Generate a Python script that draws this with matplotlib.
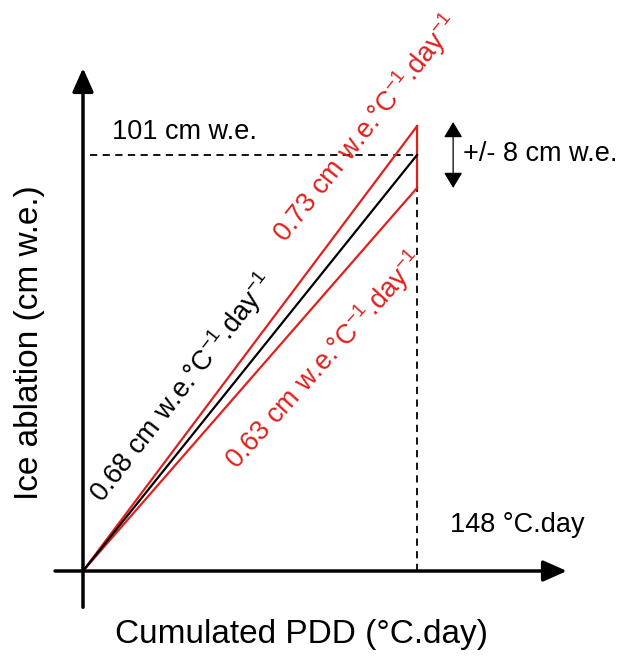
import matplotlib.pyplot as plt
import numpy as np

plt.rcParams['font.family'] = ['Liberation Sans', 'DejaVu Sans']
plt.rcParams['mathtext.fontset'] = 'custom'
plt.rcParams['mathtext.rm'] = 'Liberation Sans'
plt.rcParams['mathtext.it'] = 'Liberation Sans:italic'

# data
pdd = [0, 148]                 # cumulated PDD (°C.day)
abl_mean = [0, 101]            # 0.68 cm w.e./°C/day
abl_high = [0, 108]            # 0.73
abl_low = [0, 93]              # 0.63
uncert = 8                     # +/- cm w.e.
rate_labels = ['0.68', '0.73', '0.63']

red = '#e0201c'

fig = plt.figure(figsize=(6.21, 6.59), dpi=100)
ax = fig.add_axes([0, 0, 1, 1])
# pixel scale: origin at (83, 571)
ax.set_xlim(-83 / 2.257, (621 - 83) / 2.257)
ax.set_ylim(-(659 - 571) / 4.119, 571 / 4.119)
ax.axis('off')

# axes arrows
head = '-|>,head_length=0.9,head_width=0.4'
ax.annotate('', xy=(0, 122.1), xytext=(0, -8.8),
            arrowprops=dict(arrowstyle=head, color='black', lw=2.5,
                            mutation_scale=16, shrinkA=0, shrinkB=0))
ax.annotate('', xy=(214.4, 0), xytext=(-12.4, 0),
            arrowprops=dict(arrowstyle=head, color='black', lw=2.5,
                            mutation_scale=16, shrinkA=0, shrinkB=0))

# dashed guides
ax.plot([3, pdd[1]], [abl_mean[1], abl_mean[1]], ls=(0, (4, 3)), color='black', lw=1.3)
ax.plot([pdd[1], pdd[1]], [0, abl_low[1]], ls=(0, (4, 3)), color='black', lw=1.3)

# lines
ax.plot(pdd, abl_high, color=red, lw=1.6)
ax.plot(pdd, abl_low, color=red, lw=1.6)
ax.plot([pdd[1], pdd[1]], [abl_low[1], abl_high[1]], color=red, lw=1.6)
ax.plot(pdd, abl_mean, color='black', lw=1.6)

# +/- arrow
ax.annotate('', xy=(164, abl_mean[1] + uncert), xytext=(164, abl_mean[1] - uncert),
            arrowprops=dict(arrowstyle='<|-|>,head_length=0.8,head_width=0.48',
                            color='black', lw=0.9, mutation_scale=12,
                            shrinkA=0, shrinkB=0))

fs = 19.5
unit = r' cm w.e.°C$^{-1}$.day$^{-1}$'
ax.text(44, 44.6, rate_labels[0] + unit, fontsize=fs, color='black',
        rotation=52, ha='center', va='center', rotation_mode='anchor')
ax.text(125.4, 107.5, rate_labels[1] + unit, fontsize=fs, color=red,
        rotation=51.5, ha='center', va='center', rotation_mode='anchor')
ax.text(107.2, 51.2, rate_labels[2] + unit, fontsize=fs, color=red,
        rotation=48, ha='center', va='center', rotation_mode='anchor')

ax.text(12.8, 106.6, '101 cm w.e.', fontsize=fs, ha='left', va='center')
ax.text(168.4, 101.2, '+/- 8 cm w.e.', fontsize=fs, ha='left', va='center')
ax.text(162.6, 11.2, '148 °C.day', fontsize=fs, ha='left', va='center')

ax.text(97, -15.5, 'Cumulated PDD (°C.day)', fontsize=24, ha='center', va='center')
ax.text(-23.9, 55.4, 'Ice ablation (cm w.e.)', fontsize=24, ha='center', va='center',
        rotation=90)

fig.savefig('out.png', dpi=100)
